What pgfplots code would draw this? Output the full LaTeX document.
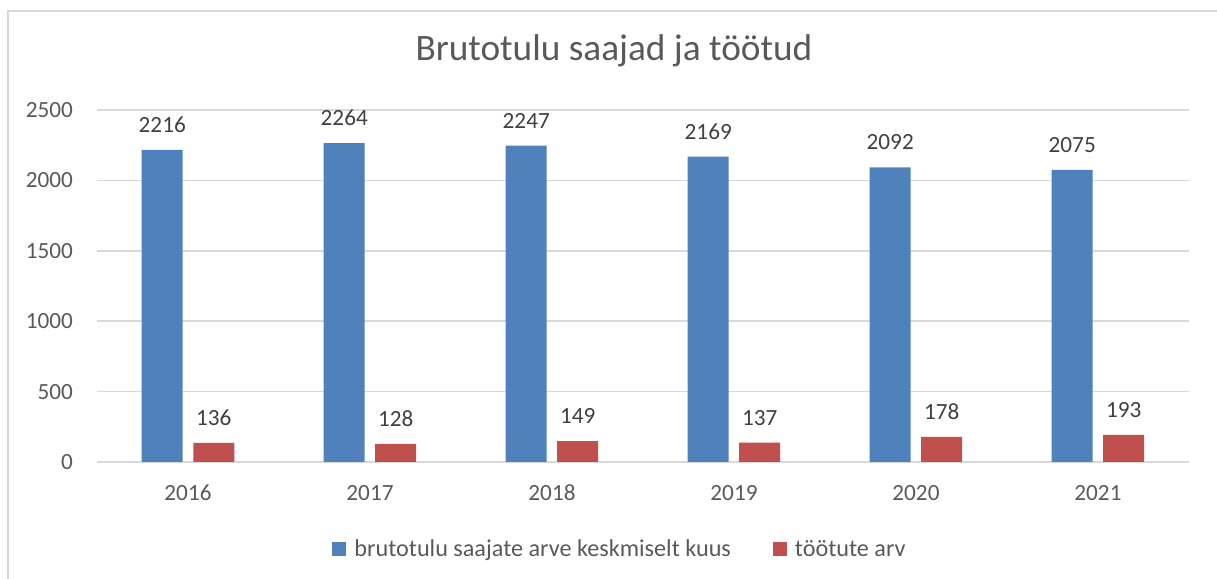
\documentclass[border=0pt]{standalone}
\usepackage{pgfplots}
\pgfplotsset{compat=1.18}
\usepackage{fontspec}
\setmainfont{Carlito}
\definecolor{cblue}{HTML}{4F81BD}
\definecolor{cred}{HTML}{C0504D}
\definecolor{cgrid}{HTML}{D9D9D9}
\definecolor{ctext}{HTML}{595959}
\definecolor{clabel}{HTML}{404040}
\begin{document}
\begin{tikzpicture}
\path[use as bounding box] (0,0) rectangle (1217bp,579bp);
\draw[cgrid, line width=1.5bp] (8bp,0) -- (8bp,568bp) -- (1217bp,568bp);
\begin{axis}[
  at={(97bp,117bp)}, anchor=south west,
  scale only axis, width=1092bp, height=352bp,
  ybar=10.5bp, bar width=41bp,
  xmin=-0.5, xmax=5.5, ymin=0, ymax=2500,
  xtick=data, xticklabels={2016,2017,2018,2019,2020,2021},
  ytick={0,500,1000,1500,2000,2500},
  /pgf/number format/assume math mode=true,
  /pgf/number format/1000 sep={},
  axis line style={draw=none},
  major tick length=0pt,
  ymajorgrids, major grid style={cgrid, line width=1.5bp},
  tick label style={font=\fontsize{23.2bp}{28bp}\selectfont, text=ctext, inner sep=0pt},
  yticklabel style={anchor=east, xshift=-24bp},
  xticklabel style={anchor=center, yshift=-31bp},
  nodes near coords,
  nodes near coords style={font=\fontsize{23.2bp}{28bp}\selectfont, text=clabel, anchor=center, yshift=25bp, inner sep=0pt},
  title={Brutotulu saajad ja töötud},
  title style={at={(0.4734,1.125)}, anchor=base, font=\fontsize{37.3bp}{44bp}\selectfont, text=ctext, inner sep=0pt},
  legend columns=2,
  legend style={at={(0.479,-0.247)}, anchor=center, draw=none, fill=none,
    font=\fontsize{24.2bp}{29bp}\selectfont, text=ctext,
    /tikz/every odd column/.append style={column sep=6bp},
    /tikz/every even column/.append style={column sep=40bp}},
  legend image code/.code={\fill[#1] (0bp,-7bp) rectangle (14bp,7bp);},
]
\addplot[fill=cblue, draw=none] coordinates {(0,2216) (1,2264) (2,2247) (3,2169) (4,2092) (5,2075)};
\addplot[fill=cred, draw=none] coordinates {(0,136) (1,128) (2,149) (3,137) (4,178) (5,193)};
\legend{brutotulu saajate arve keskmiselt kuus, töötute arv}
\end{axis}
\end{tikzpicture}
\end{document}
